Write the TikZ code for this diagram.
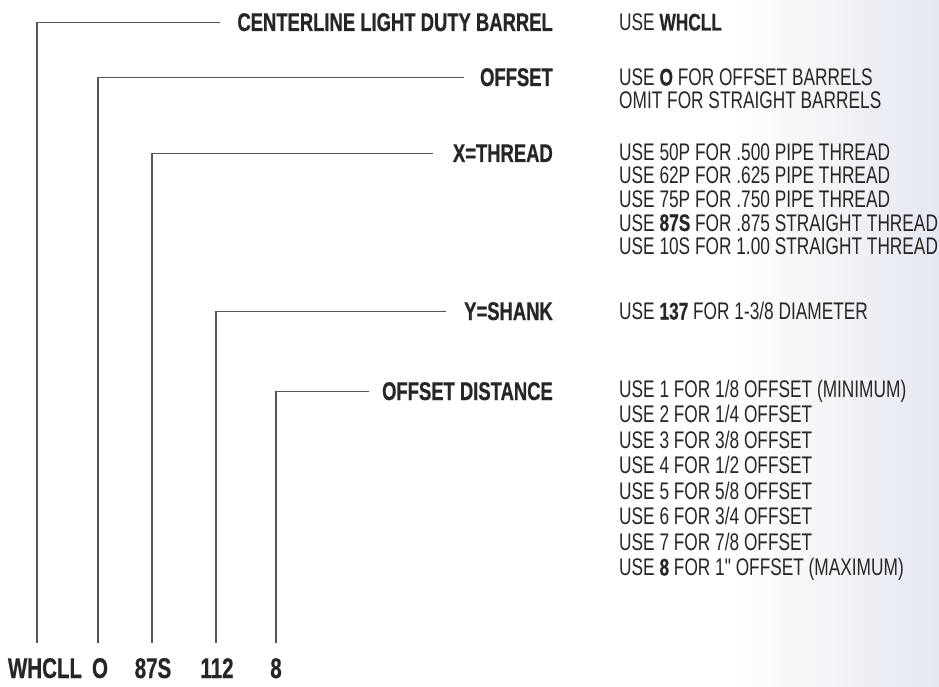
\documentclass[tikz,border=0pt]{standalone}
\usepackage{fontspec}
\newfontfamily\cond[FakeStretch=0.72, BoldFeatures={FakeBold=0.6}]{Liberation Sans}
\definecolor{ink}{HTML}{262626}
\definecolor{rulec}{HTML}{555555}
\definecolor{edgec}{RGB}{228,232,239}
\begin{document}
\begin{tikzpicture}[x=1pt,y=-1pt,
  hdr/.style={anchor=base east, inner sep=0pt, font=\cond\bfseries\fontsize{25.6}{25.6}\selectfont, text=ink},
  desc/.style={anchor=base west, inner sep=0pt, font=\cond\fontsize{24}{24}\selectfont, text=ink},
  code/.style={anchor=base, inner sep=0pt, font=\cond\bfseries\fontsize{28.5}{28.5}\selectfont, text=ink},
  conn/.style={draw=rulec, line width=1.1pt}]
\fill[white] (0,0) rectangle (939,687);
\shade[left color=white, right color=edgec] (730,0) rectangle (939,687);
\useasboundingbox (0,0) rectangle (939,687);

% headers
\node[hdr] (h1) at (553,31) {CENTERLINE LIGHT DUTY BARREL};
\node[hdr] (h2) at (553,86) {OFFSET};
\node[hdr] (h3) at (553,162) {X=THREAD};
\node[hdr] (h4) at (553,320) {Y=SHANK};
\node[hdr] (h5) at (553,400) {OFFSET DISTANCE};

% descriptions
\node[desc] (d1) at (619,30.5) {USE \textbf{WHCLL}};
\node[desc] (d2) at (619,85.5) {USE \textbf{O} FOR OFFSET BARRELS};
\node[desc] (d3) at (619,108.5) {OMIT FOR STRAIGHT BARRELS};
\node[desc] (d4) at (619,160.5) {USE 50P FOR .500 PIPE THREAD};
\node[desc] (d5) at (619,184) {USE 62P FOR .625 PIPE THREAD};
\node[desc] (d6) at (619,207.5) {USE 75P FOR .750 PIPE THREAD};
\node[desc] (d7) at (619,231) {USE \textbf{87S} FOR .875 STRAIGHT THREAD};
\node[desc] (d8) at (619,254.5) {USE 10S FOR 1.00 STRAIGHT THREAD};
\node[desc] (d9) at (619,319.5) {USE \textbf{137} FOR 1-3/8 DIAMETER};
\node[desc] (e1) at (619,397) {USE 1 FOR 1/8 OFFSET (MINIMUM)};
\node[desc] (e2) at (619,422.5) {USE 2 FOR 1/4 OFFSET};
\node[desc] (e3) at (619,448) {USE 3 FOR 3/8 OFFSET};
\node[desc] (e4) at (619,473.5) {USE 4 FOR 1/2 OFFSET};
\node[desc] (e5) at (619,499) {USE 5 FOR 5/8 OFFSET};
\node[desc] (e6) at (619,524.5) {USE 6 FOR 3/4 OFFSET};
\node[desc] (e7) at (619,550) {USE 7 FOR 7/8 OFFSET};
\node[desc] (e8) at (619,575.5) {USE \textbf{8} FOR 1" OFFSET (MAXIMUM)};

% code parts
\node[code] (c1) at (45,678) {WHCLL};
\node[code] (c2) at (100,678) {O};
\node[code] (c3) at (153,678) {87S};
\node[code] (c4) at (217,678) {112};
\node[code] (c5) at (276,678) {8};

\coordinate (v1) at (37,643);
\coordinate (v2) at (98,643);
\coordinate (v3) at (152,643);
\coordinate (v4) at (216,643);
\coordinate (v5) at (276,643);

\draw[conn] ([xshift=-17pt,yshift=8.5pt]h1.base west) -| (v1);
\draw[conn] ([xshift=-16pt,yshift=8.5pt]h2.base west) -| (v2);
\draw[conn] ([xshift=-20pt,yshift=8.5pt]h3.base west) -| (v3);
\draw[conn] ([xshift=-18pt,yshift=8.5pt]h4.base west) -| (v4);
\draw[conn] ([xshift=-13pt,yshift=8.5pt]h5.base west) -| (v5);
\end{tikzpicture}
\end{document}
